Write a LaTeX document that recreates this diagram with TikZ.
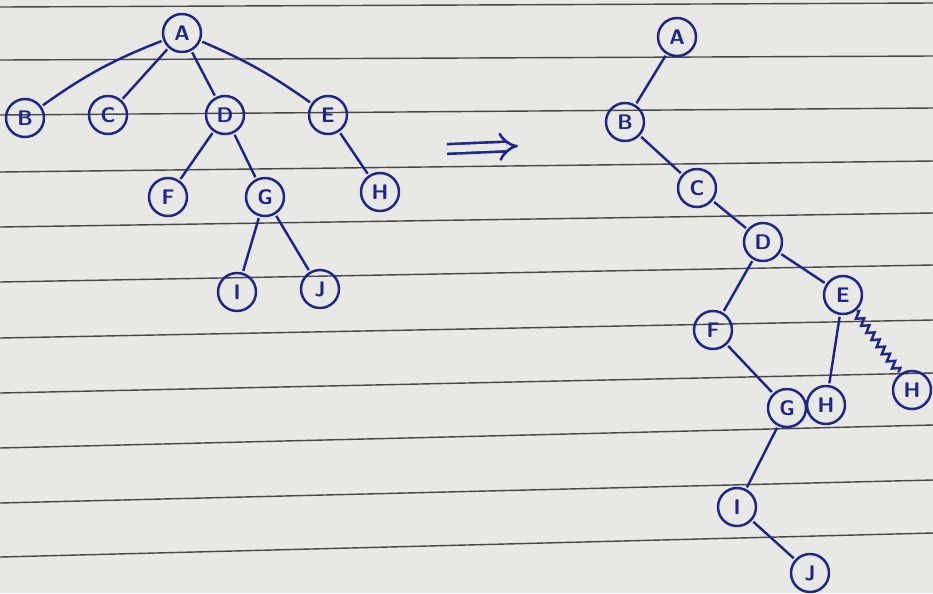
\documentclass[tikz,border=0pt]{standalone}
\usepackage{tikz}
\usetikzlibrary{arrows.meta}
\usetikzlibrary{decorations.pathmorphing}
\definecolor{ink}{RGB}{28,38,140}
\definecolor{paper}{RGB}{232,232,229}
\definecolor{rule}{RGB}{70,70,70}

\begin{document}
\begin{tikzpicture}[
  x=0.02cm, y=-0.02cm,
  every node/.style={circle,draw=ink,text=ink,line width=1.4pt,minimum size=0.76cm,inner sep=0pt,font=\large\sffamily\bfseries},
  edge/.style={ink,line width=1.4pt,shorten <=1pt,shorten >=1pt}
]
  % paper and ruled lines
  \fill[paper] (0,0) rectangle (933,593);
  \useasboundingbox (0,0) rectangle (933,593);
  \foreach \l/\r in {7/3,60/56,115/108,172/161,227/213,282/265,338/320,393/373,448/425,503/480,557/533}
    \draw[rule,line width=0.8pt] (0,\l) -- (933,\r);

  % tree before
  \node (A) at (182,33)  {A};
  \node (B) at (25,118)  {B};
  \node (C) at (108,115) {C};
  \node (D) at (225,115) {D};
  \node (E) at (328,115) {E};
  \node (F) at (168,197) {F};
  \node (G) at (265,197) {G};
  \node (H) at (380,192) {H};
  \node (I) at (237,292) {I};
  \node (J) at (320,289) {J};

  \draw[edge] (A) to[bend right=7] (B);
  \draw[edge] (A) -- (C);
  \draw[edge] (A) -- (D);
  \draw[edge] (A) to[bend left=6] (E);
  \draw[edge] (D) -- (F);
  \draw[edge] (D) -- (G);
  \draw[edge] (E) -- (H);
  \draw[edge] (G) -- (I);
  \draw[edge] (G) -- (J);

  % arrow between the two trees
  \coordinate (p1) at (447,149);
  \coordinate (p2) at (518,146);
  \draw[ink,double=paper,double distance=4pt,line width=1.5pt,-{Implies}] (p1) -- (p2);

  % tree after
  \node (a) at (677,37)  {A};
  \node (b) at (625,122) {B};
  \node (c) at (697,188) {C};
  \node (d) at (763,242) {D};
  \node (e) at (843,295) {E};
  \node (f) at (713,330) {F};
  \node (g) at (787,408) {G};
  \node (h) at (826,405) {H};
  \node (hx) at (912,390) {H};
  \node (i) at (737,507) {I};
  \node (j) at (810,573) {J};

  \draw[edge] (a) -- (b);
  \draw[edge] (b) -- (c);
  \draw[edge] (c) -- (d);
  \draw[edge] (d) -- (f);
  \draw[edge] (d) -- (e);
  \draw[edge] (f) -- (g);
  \draw[edge] (e) -- (h);
  \draw[edge,decorate,decoration={zigzag,amplitude=2pt,segment length=5pt}] (e) -- (hx);
  \draw[edge] (g) -- (i);
  \draw[edge] (i) -- (j);
\end{tikzpicture}
\end{document}
